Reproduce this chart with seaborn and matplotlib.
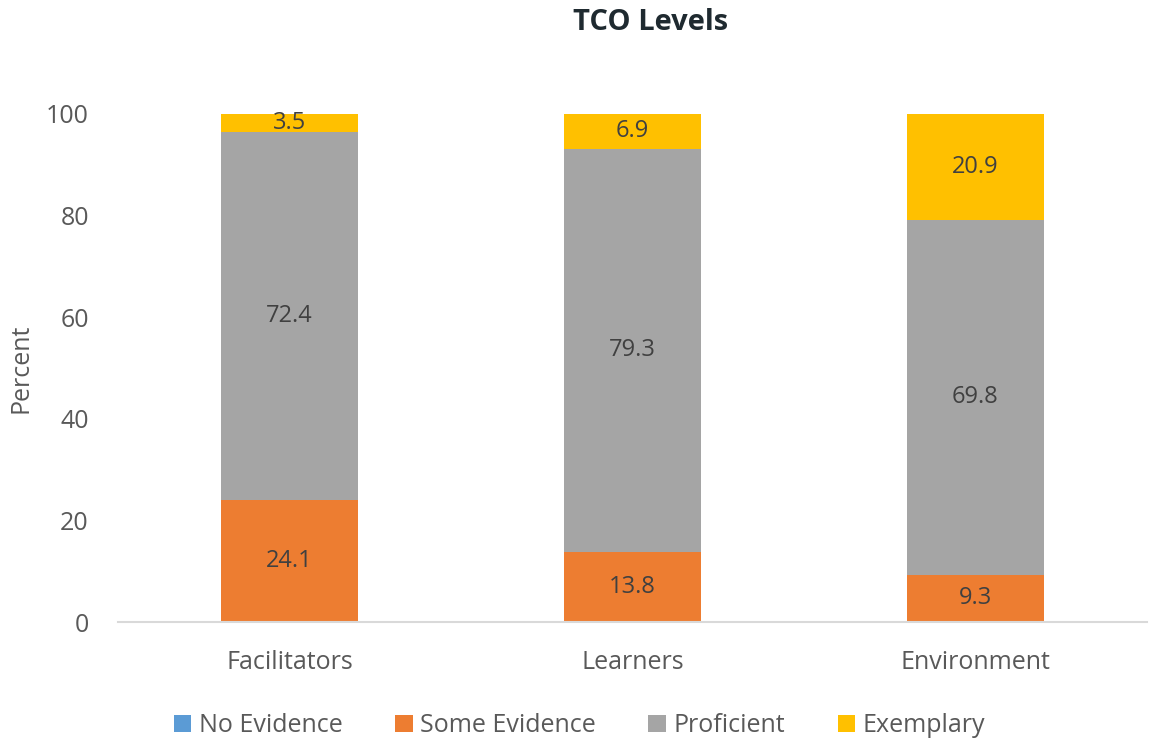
import numpy as np
import pandas as pd
import matplotlib.pyplot as plt
import seaborn as sns
from matplotlib.patches import Patch

# Chart data
groups = ["Facilitators", "Learners", "Environment"]
levels = ["No Evidence", "Some Evidence", "Proficient", "Exemplary"]
no_evidence = [0.0, 0.0, 0.0]
some_evidence = [24.1, 13.8, 9.3]
proficient = [72.4, 79.3, 69.8]
exemplary = [3.5, 6.9, 20.9]
colors = ["#5B9BD5", "#ED7D31", "#A5A5A5", "#FFC000"]

sns.set_theme(style="white")
plt.rcParams['font.family'] = ['Open Sans', 'DejaVu Sans']
text_color = "#595959"

df = pd.DataFrame({
    "Group": groups,
    "No Evidence": no_evidence,
    "Some Evidence": some_evidence,
    "Proficient": proficient,
    "Exemplary": exemplary,
})

# cumulative tops for the stacked look (draw tallest first)
cum = df[levels].cumsum(axis=1)

fig = plt.figure(figsize=(11.59, 7.42), dpi=100)
ax = fig.add_axes([0.1018, 0.1617, 0.8878, 0.6847])

for lvl, col in reversed(list(zip(levels, colors))):
    sns.barplot(x=df["Group"], y=cum[lvl], color=col, width=0.4,
                saturation=1, ax=ax, linewidth=0)

# value labels centred in each segment
for i in range(len(groups)):
    bottom = 0
    for lvl in levels:
        v = df.loc[i, lvl]
        if v > 0:
            ax.text(i, bottom + v / 2, f"{v:.1f}", ha="center", va="center",
                    fontsize=17, color="#404040")
        bottom += v

ax.set_xlim(-0.5, 2.5)
ax.set_ylim(0, 100)
ax.set_yticks(range(0, 101, 20))
ax.set_xlabel("")
ax.set_ylabel("Percent", fontsize=18, color=text_color)
ax.yaxis.set_label_coords(-0.082, 0.5)
ax.tick_params(axis="both", labelsize=18, colors=text_color, length=0)
ax.tick_params(axis="x", pad=20)
ax.tick_params(axis="y", pad=21)
for s in ["top", "right", "left"]:
    ax.spines[s].set_visible(False)
ax.spines["bottom"].set_color("#D9D9D9")
ax.spines["bottom"].set_linewidth(1.5)

fig.text(0.561, 0.970, "TCO Levels", ha="center", va="center",
         fontsize=21, fontweight="bold", color="#1F2A30")

handles = [Patch(facecolor=c, edgecolor="none", label=l) for l, c in zip(levels, colors)]
fig.legend(handles=handles, loc="center", bbox_to_anchor=(0.5, 0.022), ncol=4,
           frameon=False, fontsize=18, labelcolor=text_color,
           handlelength=0.7, handleheight=0.7, handletextpad=0.3, columnspacing=2.1)

fig.savefig("out.png", dpi=100)
